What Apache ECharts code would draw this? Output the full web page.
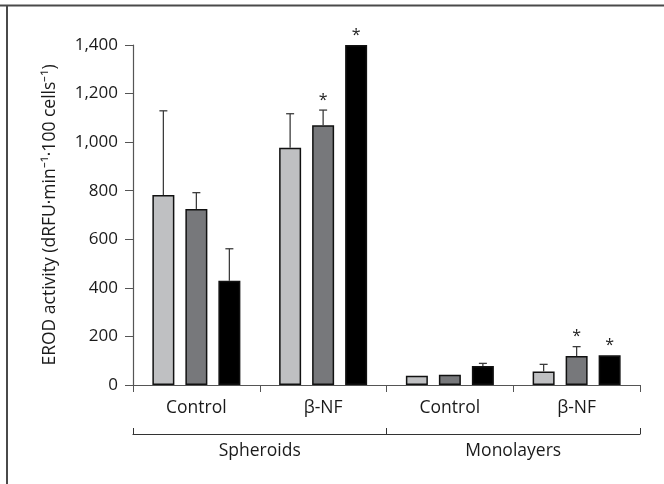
<!DOCTYPE html>
<html>
<head>
<meta charset="utf-8">
<script src="https://cdn.jsdelivr.net/npm/echarts@6/dist/echarts.min.js"></script>
<style>
  html, body { margin: 0; padding: 0; background: #fff; }
  #chart { width: 664px; height: 484px; }
</style>
</head>
<body>
<div id="chart"></div>
<script>
var categories = ['Control', 'β-NF', 'Control', 'β-NF'];
var groups = ['Spheroids', 'Monolayers'];
var yTicks = [0, 200, 400, 600, 800, 1000, 1200, 1400];

// three bars per category (light, dark, black)
var meanA = [782, 977, 38, 56];
var meanB = [725, 1070, 42, 119];
var meanC = [429, 1400, 78, 122];
// top of error bars
var errA = [1129, 1117, 38, 85];
var errB = [792, 1132, 43, 158];
var errC = [561, 1400, 89, 123];
// asterisk marks
var sigA = [0, 0, 0, 0];
var sigB = [0, 1, 0, 1];
var sigC = [0, 1, 0, 1];

var colors = ['#bfc0c2', '#77787b', '#000000'];
var barW = 22;
var gap = 11;

var chart = echarts.init(document.getElementById('chart'));

function errSeries(idx, means, errs, sigs) {
    var data = [];
    for (var i = 0; i < means.length; i++) {
        data.push([i, means[i], errs[i], sigs[i]]);
    }
    return {
        type: 'custom',
        z: 5,
        data: data,
        renderItem: function (params, api) {
            var cat = api.value(0);
            var lo = api.coord([cat, api.value(1)]);
            var hi = api.coord([cat, api.value(2)]);
            var x = lo[0] + (idx - 1) * (barW + gap);
            var kids = [];
            if (hi[1] < lo[1] - 0.5) {
                kids.push({
                    type: 'line',
                    shape: { x1: x, y1: lo[1], x2: x, y2: hi[1] },
                    style: { stroke: '#3c3c3c', lineWidth: 1.3 }
                });
                kids.push({
                    type: 'line',
                    shape: { x1: x - 4, y1: hi[1], x2: x + 4, y2: hi[1] },
                    style: { stroke: '#3c3c3c', lineWidth: 1.3 }
                });
            }
            if (api.value(3)) {
                kids.push({
                    type: 'text',
                    style: {
                        text: '*', x: x, y: hi[1] - 2,
                        align: 'center', verticalAlign: 'bottom',
                        font: '16px "Open Sans"', fill: '#222'
                    }
                });
            }
            return { type: 'group', children: kids };
        }
    };
}

function barSeries(idx, means) {
    return {
        type: 'bar',
        data: means,
        barWidth: barW,
        barGap: '50%',
        itemStyle: { color: colors[idx], borderColor: '#111', borderWidth: 1.5 }
    };
}

chart.setOption({
    animation: false,
    textStyle: { fontFamily: 'Open Sans' },
    grid: { left: 133, right: 24, top: 45, bottom: 99 },
    graphic: [
        { type: 'line', shape: { x1: 0, y1: 5.5, x2: 664, y2: 5.5 }, style: { stroke: '#4a4a4a', lineWidth: 2 } },
        { type: 'line', shape: { x1: 7, y1: 5, x2: 7, y2: 484 }, style: { stroke: '#4a4a4a', lineWidth: 2 } }
    ],
    xAxis: [{
        type: 'category',
        data: categories,
        position: 'bottom',
        axisLine: { lineStyle: { color: '#555', width: 1.2 } },
        axisTick: { show: true, length: 7, lineStyle: { color: '#555' } },
        axisLabel: { color: '#1a1a1a', fontSize: 17.5, margin: 14 }
    }, {
        type: 'category',
        data: groups,
        position: 'bottom',
        offset: 49,
        axisLine: { lineStyle: { color: '#333', width: 1.2 } },
        axisTick: { show: true, inside: true, length: 6, lineStyle: { color: '#333' } },
        axisLabel: { color: '#1a1a1a', fontSize: 17.5, margin: 8 }
    }],
    yAxis: {
        type: 'value',
        min: 0,
        max: 1400,
        interval: 200,
        name: 'EROD activity (dRFU·min⁻¹·100 cells⁻¹)',
        nameLocation: 'middle',
        nameGap: 74,
        nameTextStyle: { color: '#1a1a1a', fontSize: 17.5 },
        axisLine: { show: true, lineStyle: { color: '#555', width: 1.2 } },
        axisTick: { show: true, length: 8, lineStyle: { color: '#555' } },
        splitLine: { show: false },
        axisLabel: {
            color: '#1a1a1a', fontSize: 17, margin: 15,
            formatter: function (v) {
                return yTicks.indexOf(v) >= 0 ? v.toLocaleString('en-US') : '';
            }
        }
    },
    series: [
        barSeries(0, meanA), barSeries(1, meanB), barSeries(2, meanC),
        errSeries(0, meanA, errA, sigA), errSeries(1, meanB, errB, sigB), errSeries(2, meanC, errC, sigC)
    ]
});
</script>
</body>
</html>
